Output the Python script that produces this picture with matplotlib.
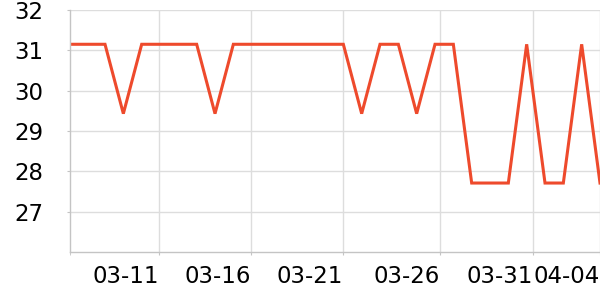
import matplotlib
matplotlib.use("Agg")
import matplotlib.pyplot as plt

# daily values, 03-06 .. 04-04
dates = ["03-06", "03-07", "03-08", "03-09", "03-10", "03-11", "03-12", "03-13",
         "03-14", "03-15", "03-16", "03-17", "03-18", "03-19", "03-20", "03-21",
         "03-22", "03-23", "03-24", "03-25", "03-26", "03-27", "03-28", "03-29",
         "03-30", "03-31", "04-01", "04-02", "04-03", "04-04"]
values = [31.15, 31.15, 31.15, 29.43, 31.15, 31.15, 31.15, 31.15,
          29.43, 31.15, 31.15, 31.15, 31.15, 31.15, 31.15, 31.15,
          29.43, 31.15, 31.15, 29.43, 31.15, 31.15, 27.71, 27.71,
          27.71, 31.15, 27.71, 27.71, 31.15, 27.71]

tick_labels = ["03-11", "03-16", "03-21", "03-26", "03-31", "04-04"]
tick_pos = [4.96, 9.98, 15.0, 20.29, 25.33, 29.0]
y_ticks = [27, 28, 29, 30, 31, 32]

fig = plt.figure(figsize=(6, 3), dpi=100)
ax = fig.add_axes([70 / 600, 48 / 300, 530 / 600, 242 / 300])

x = list(range(len(values)))
ax.plot(x, values, color="#EE4A2C", lw=2.2, solid_joinstyle="miter", clip_on=True)

ax.set_xlim(0.09, 29)
ax.set_ylim(26, 32)

ax.set_yticks(y_ticks)
ax.set_xticks(tick_pos)
ax.set_xticklabels(tick_labels, ha="right")
ax.set_xticks([0.09], minor=True)

ax.grid(True, color="#dddddd", lw=1)
ax.set_axisbelow(True)

for s in ["top", "right"]:
    ax.spines[s].set_visible(False)
for s in ["left", "bottom"]:
    ax.spines[s].set_color("#c4c4c4")
    ax.spines[s].set_linewidth(1)

ax.tick_params(axis="y", length=2, color="#c4c4c4", pad=17, labelsize=16.5)
ax.tick_params(axis="x", which="both", length=2.5, color="#c4c4c4", pad=7, labelsize=16.5)

fig.savefig("out.png", dpi=100)
